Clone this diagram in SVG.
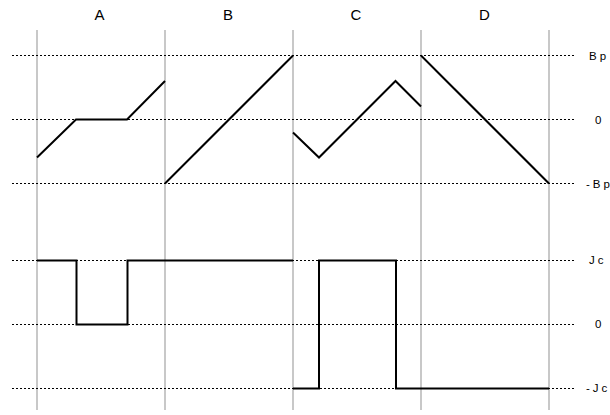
<svg xmlns="http://www.w3.org/2000/svg" width="610" height="415" viewBox="0 0 610 415">
<style>
.grid{stroke:#c8c8c8;stroke-width:2;fill:none}
.dot{stroke:#000;stroke-width:1;stroke-dasharray:2,2;fill:none}
.sig{stroke:#000;stroke-width:2;fill:none;stroke-linejoin:miter}
.hdr{font-family:"Liberation Sans",Arial,sans-serif;font-size:15px;fill:#000;text-anchor:middle}
.lbl{font-family:"Liberation Sans",Arial,sans-serif;font-size:11.5px;fill:#000;letter-spacing:3px}
</style>
<rect width="610" height="415" fill="#fff"/>
<g id="grid">
<line class="grid" x1="37" y1="30" x2="37" y2="410"/>
<line class="grid" x1="165" y1="30" x2="165" y2="410"/>
<line class="grid" x1="293" y1="30" x2="293" y2="410"/>
<line class="grid" x1="421" y1="30" x2="421" y2="410"/>
<line class="grid" x1="549" y1="30" x2="549" y2="410"/>
</g>
<g id="levels">
<line class="dot" x1="12" y1="55.5" x2="574" y2="55.5"/>
<line class="dot" x1="12" y1="119.5" x2="574" y2="119.5"/>
<line class="dot" x1="12" y1="183.5" x2="574" y2="183.5"/>
<line class="dot" x1="12" y1="260.5" x2="574" y2="260.5"/>
<line class="dot" x1="12" y1="324.5" x2="574" y2="324.5"/>
<line class="dot" x1="12" y1="388.5" x2="574" y2="388.5"/>
</g>
<g id="headers">
<text class="hdr" x="99.5" y="19.5">A</text>
<text class="hdr" x="228" y="19.5">B</text>
<text class="hdr" x="356" y="19.5">C</text>
<text class="hdr" x="484.5" y="19.5">D</text>
</g>
<g id="labels">
<text class="lbl" x="589" y="59.5">Bp</text>
<text class="lbl" x="595" y="123.5">0</text>
<text class="lbl" x="586" y="187.5">-Bp</text>
<text class="lbl" x="589" y="264">Jc</text>
<text class="lbl" x="595" y="328">0</text>
<text class="lbl" x="586" y="392">-Jc</text>
</g>
<g id="connectors">
<polyline class="sig" points="37,157.5 76,119.5 127,119.5 165,81"/>
<polyline class="sig" points="165,183.5 293,55.5"/>
<polyline class="sig" points="293,132.5 319,157.5 395.5,81 421,106.5"/>
<polyline class="sig" points="421,55.5 549,183.5"/>
<polyline class="sig" points="37,260.5 76.5,260.5 76.5,324.5 127.5,324.5 127.5,260.5 293,260.5"/>
<polyline class="sig" points="293,388.5 319,388.5 319,260.5 396,260.5 396,388.5 549,388.5"/>
</g>
</svg>
